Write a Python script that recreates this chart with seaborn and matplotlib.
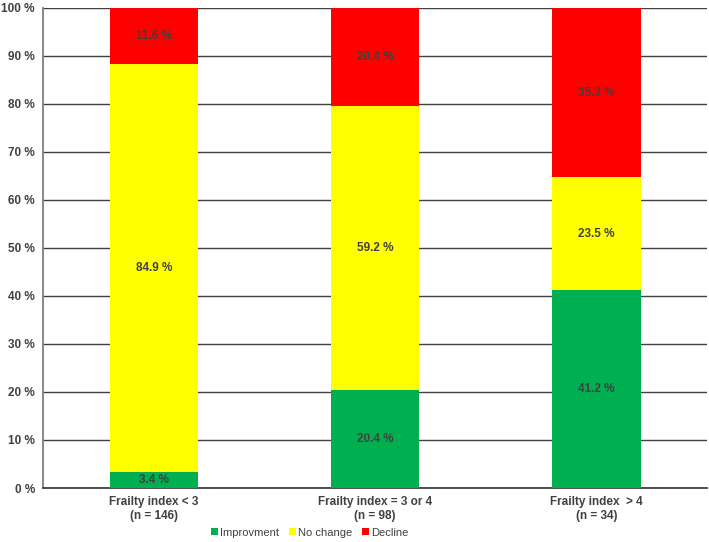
import numpy as np
import pandas as pd
import seaborn as sns
import matplotlib.pyplot as plt
from matplotlib.patches import Patch

# data (percent)
groups = ["Frailty index < 3\n(n = 146)", "Frailty index = 3 or 4\n(n = 98)", "Frailty index  > 4\n(n = 34)"]
improvement = [3.4, 20.4, 41.2]
no_change = [84.9, 59.2, 23.5]
decline = [11.6, 20.4, 35.3]
series = ["Improvment", "No change", "Decline"]
colors = ["#00B050", "#FFFF00", "#FF0000"]

sns.set_style("white")
plt.rcParams["font.family"] = ["Liberation Sans", "DejaVu Sans"]

fig = plt.figure(figsize=(7.09, 5.42), dpi=100)
ax = fig.add_axes([0.061, 0.0996, 0.936, 0.886])

vals = np.array([improvement, no_change, decline])
cum = vals.cumsum(axis=0)
cum[-1] = 100.0  # top segment closes at 100 %

# stacked bars via overlay of cumulative heights
for i in reversed(range(3)):
    df = pd.DataFrame({"group": groups, "value": cum[i]})
    sns.barplot(data=df, x="group", y="value", color=colors[i], saturation=1,
                width=0.4, ax=ax, zorder=3, edgecolor="none")

# segment labels
for j in range(3):
    bottom = 0
    for i in range(3):
        ax.text(j, bottom + vals[i, j] / 2, f"{vals[i, j]:.1f} %", ha="center", va="center",
                fontsize=8.5, fontweight="bold", color="#404040", zorder=4)
        bottom += vals[i, j]

ax.set_ylim(0, 100)
ax.set_xlim(-0.5, 2.5)
ax.set_yticks(range(0, 101, 10))
ax.set_yticklabels([f"{t} %" for t in range(0, 101, 10)])
ax.yaxis.grid(True, color="#404040", lw=1)
ax.set_axisbelow(True)
ax.set_xlabel("")
ax.set_ylabel("")
ax.tick_params(axis="both", length=0, labelsize=8.5, labelcolor="#404040")
ax.tick_params(axis="y", pad=6)
ax.tick_params(axis="x", pad=6)
for lbl in ax.get_xticklabels() + ax.get_yticklabels():
    lbl.set_fontweight("bold")
for s in ["top", "right"]:
    ax.spines[s].set_visible(False)
ax.spines["left"].set_color("#808080")
ax.spines["left"].set_linewidth(1.3)
ax.spines["bottom"].set_color("#404040")
ax.spines["bottom"].set_linewidth(1.3)

handles = [Patch(facecolor=c, edgecolor="none", label=s) for s, c in zip(series, colors)]
fig.legend(handles=handles, loc="center", bbox_to_anchor=(0.437, 0.017), ncol=3, frameon=False,
           fontsize=8, handlelength=0.6, handleheight=0.6, handletextpad=0.2, columnspacing=0.9,
           labelcolor="#404040")

fig.savefig("out.png", dpi=100)
